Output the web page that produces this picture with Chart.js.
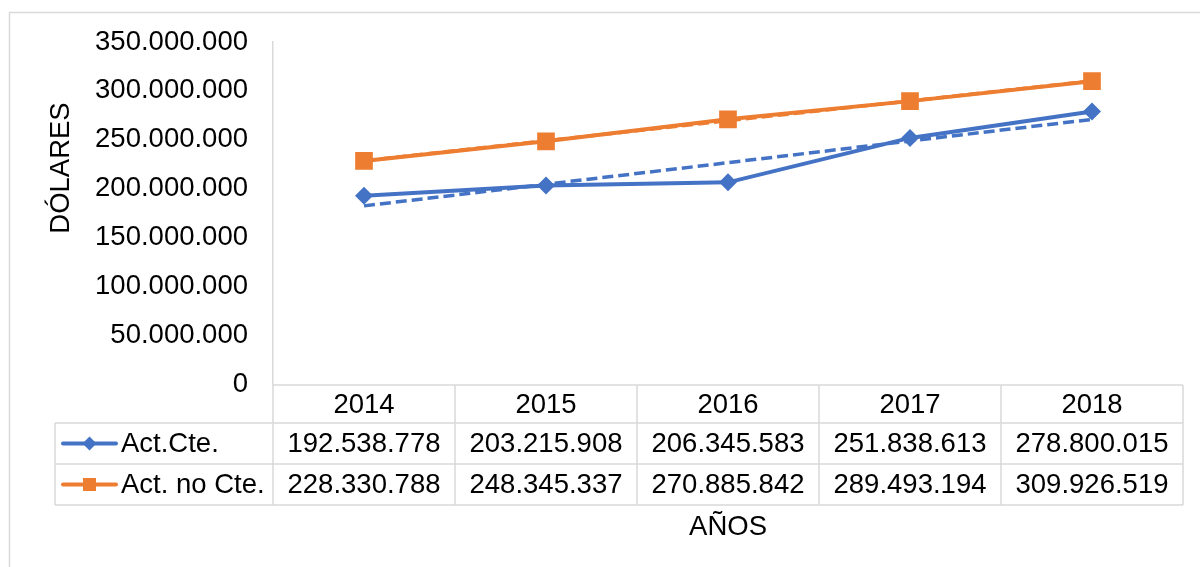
<!DOCTYPE html>
<html>
<head>
<meta charset="utf-8">
<script src="https://cdn.jsdelivr.net/npm/chart.js@4.4.1/dist/chart.umd.min.js"></script>
<style>
  html, body { margin: 0; padding: 0; background: #fff; overflow: hidden; }
  #wrap { width: 1200px; height: 567px; position: relative; }
</style>
</head>
<body>
<div id="wrap"><canvas id="myChart" width="1200" height="567"></canvas></div>
<script>
// data
const years = ['2014', '2015', '2016', '2017', '2018'];
const actCte = [192538778, 203215908, 206345583, 251838613, 278800015];
const actNoCte = [228330788, 248345337, 270885842, 289493194, 309926519];
// dashed linear trend lines as they appear in the picture
const trendCte = [182300000, 204400000, 226500000, 248700000, 270800000];
const trendNoCte = [228500000, 249000000, 269400000, 289800000, 310300000];
const seriesNames = ['Act.Cte.', 'Act. no Cte.'];
const yMin = 0;
const yMax = 350000000;
const yStep = 50000000;
const yTitle = 'DÓLARES';
const xTitle = 'AÑOS';

const BLUE = '#4472C4';
const ORANGE = '#ED7D31';
const GRID = '#d9d9d9';
const FONT = "'Liberation Sans', Arial, sans-serif";
const FS = 27.5;

function fmt(v) {
    return String(Math.round(v)).replace(/\B(?=(\d{3})+(?!\d))/g, '.');
}

function drawMarker(ctx, style, x, y, r, color) {
    ctx.fillStyle = color;
    ctx.beginPath();
    if (style == 'rectRot') {
        ctx.moveTo(x, y - r);
        ctx.lineTo(x + r, y);
        ctx.lineTo(x, y + r);
        ctx.lineTo(x - r, y);
        ctx.closePath();
    } else {
        ctx.rect(x - r, y - r, 2 * r, 2 * r);
    }
    ctx.fill();
}

// data table under the plot + axis titles + outer frame
const tablePlugin = {
    id: 'dataTable',
    afterDraw(chart) {
        const ctx = chart.ctx;
        const area = chart.chartArea;
        const xs = chart.scales.x;
        const colW = xs.getPixelForValue(1) - xs.getPixelForValue(0);
        const left = area.left;
        const right = area.right;
        const legLeft = 55;
        const rows = [area.bottom + 1, area.bottom + 39, area.bottom + 80, area.bottom + 121];

        ctx.save();
        // outer chart frame
        ctx.strokeStyle = GRID;
        ctx.lineWidth = 1.5;
        ctx.strokeRect(9.5, 12.5, 1400, 800);

        ctx.lineWidth = 1.5;
        ctx.strokeStyle = GRID;
        ctx.beginPath();
        ctx.moveTo(left, rows[0]); ctx.lineTo(right, rows[0]);
        for (let r = 1; r < rows.length; r++) {
            ctx.moveTo(legLeft, rows[r]); ctx.lineTo(right, rows[r]);
        }
        ctx.moveTo(legLeft, rows[1]); ctx.lineTo(legLeft, rows[3]);
        for (let i = 0; i <= years.length; i++) {
            const x = left + i * colW;
            ctx.moveTo(x, rows[0]); ctx.lineTo(x, rows[3]);
        }
        ctx.stroke();

        ctx.fillStyle = '#000';
        ctx.font = FS + 'px ' + FONT;
        ctx.textAlign = 'center';
        ctx.textBaseline = 'middle';
        const rowMid = r => (rows[r] + rows[r + 1]) / 2 + 1;
        years.forEach((y, i) => {
            const cx = xs.getPixelForValue(i);
            ctx.fillText(y, cx, rowMid(0));
            ctx.fillText(fmt(actCte[i]), cx, rowMid(1));
            ctx.fillText(fmt(actNoCte[i]), cx, rowMid(2));
        });

        // legend keys
        const keys = [[BLUE, 'rectRot', 7], [ORANGE, 'rect', 6.5]];
        keys.forEach((k, j) => {
            const cy = rowMid(j + 1) - 1;
            ctx.strokeStyle = k[0];
            ctx.lineWidth = 4;
            ctx.lineCap = 'round';
            ctx.beginPath();
            ctx.moveTo(63, cy); ctx.lineTo(116, cy);
            ctx.stroke();
            drawMarker(ctx, k[1], 89.5, cy, k[2], k[0]);
            ctx.fillStyle = '#000';
            ctx.textAlign = 'left';
            ctx.fillText(seriesNames[j], 121, rowMid(j + 1));
        });

        // axis titles
        ctx.textAlign = 'center';
        ctx.fillText(xTitle, (left + right) / 2, 527);
        ctx.translate(61, 168);
        ctx.rotate(-Math.PI / 2);
        ctx.fillText(yTitle, 0, 0);
        ctx.restore();
    }
};

const trendStyle = {
    borderWidth: 3.5,
    borderDash: [11, 5],
    pointRadius: 0,
    fill: false,
    tension: 0
};

const config = {
    type: 'line',
    data: {
        labels: years,
        datasets: [
            {
                label: seriesNames[0],
                data: actCte,
                borderColor: BLUE,
                backgroundColor: BLUE,
                borderWidth: 4,
                pointStyle: 'rectRot',
                pointRadius: 9,
                pointBorderWidth: 0,
                order: 1
            },
            {
                label: seriesNames[1],
                data: actNoCte,
                borderColor: ORANGE,
                backgroundColor: ORANGE,
                borderWidth: 4,
                pointStyle: 'rect',
                pointRadius: 12.5,
                pointBorderWidth: 0,
                order: 1
            },
            Object.assign({ label: 'trend1', data: trendCte, borderColor: BLUE, order: 2 }, trendStyle),
            Object.assign({ label: 'trend2', data: trendNoCte, borderColor: ORANGE, order: 2 }, trendStyle)
        ]
    },
    options: {
        responsive: false,
        animation: false,
        devicePixelRatio: 1,
        layout: { padding: { left: 10, right: 17, top: 42, bottom: 183 } },
        plugins: { legend: { display: false }, tooltip: { enabled: false } },
        scales: {
            x: { type: 'category', display: false, offset: true },
            y: {
                min: yMin,
                max: yMax,
                ticks: {
                    stepSize: yStep,
                    padding: 25,
                    color: '#000',
                    font: { family: FONT, size: FS },
                    callback: v => fmt(v)
                },
                grid: { display: false, drawTicks: false },
                border: { display: true, color: GRID, width: 1.5 },
                afterFit: s => { s.width = 263; }
            }
        }
    },
    plugins: [tablePlugin]
};

const myChart = new Chart(document.getElementById('myChart'), config);
</script>
</body>
</html>
